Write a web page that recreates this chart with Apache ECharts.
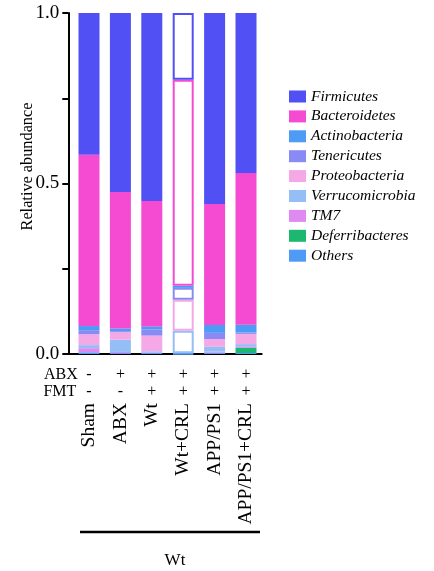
<!DOCTYPE html>
<html>
<head>
<meta charset="utf-8">
<script src="https://cdn.jsdelivr.net/npm/echarts@6/dist/echarts.min.js"></script>
<style>
  html, body { margin: 0; padding: 0; background: #ffffff; }
  #chart { width: 434px; height: 571px; }
</style>
</head>
<body>
<div id="chart"></div>
<script>
// Groups and treatment rows
const groups = ['Sham', 'ABX', 'Wt', 'Wt+CRL', 'APP/PS1', 'APP/PS1+CRL'];
const abxRow = ['-', '+', '+', '+', '+', '+'];
const fmtRow = ['-', '-', '+', '+', '+', '+'];
const yTickLabels = ['0.0', '0.5', '1.0'];

// Relative abundance per phylum (same order as groups)
const firmicutes      = [0.416, 0.525, 0.551, 0.196, 0.560, 0.469];
const bacteroidetes   = [0.502, 0.400, 0.368, 0.604, 0.355, 0.445];
const actinobacteria  = [0.012, 0.008, 0.009, 0.006, 0.023, 0.023];
const tenericutes     = [0.012, 0.003, 0.018, 0.035, 0.018, 0.004];
const proteobacteria  = [0.032, 0.022, 0.046, 0.091, 0.023, 0.030];
const verrucomicrobia = [0.009, 0.036, 0.003, 0.066, 0.014, 0.008];
const tm7             = [0.012, 0.003, 0.002, 0.000, 0.003, 0.003];
const deferribacteres = [0.000, 0.000, 0.000, 0.000, 0.000, 0.015];
const others          = [0.005, 0.003, 0.003, 0.002, 0.004, 0.003];

// Legend order (top of stack first)
const legendOrder = ['Firmicutes', 'Bacteroidetes', 'Actinobacteria', 'Tenericutes',
  'Proteobacteria', 'Verrucomicrobia', 'TM7', 'Deferribacteres', 'Others'];

// Stack order, bottom to top
const phyla = [
  { name: 'Others',          data: others,          color: '#4f9af5' },
  { name: 'Deferribacteres', data: deferribacteres, color: '#1db870' },
  { name: 'TM7',             data: tm7,             color: '#de8af0' },
  { name: 'Verrucomicrobia', data: verrucomicrobia, color: '#94bef5' },
  { name: 'Proteobacteria',  data: proteobacteria,  color: '#f5a8e6' },
  { name: 'Tenericutes',     data: tenericutes,     color: '#8a8af5' },
  { name: 'Actinobacteria',  data: actinobacteria,  color: '#4d9bf5' },
  { name: 'Bacteroidetes',   data: bacteroidetes,   color: '#f54bd2' },
  { name: 'Firmicutes',      data: firmicutes,      color: '#5050f5' }
];

// The Wt+CRL column is drawn as outlined (unfilled) boxes
const outlinedGroup = 'Wt+CRL';

const serif = 'Liberation Serif, Times New Roman, serif';

const series = phyla.map(p => ({
  name: p.name,
  type: 'bar',
  stack: 'abundance',
  barWidth: 21,
  itemStyle: { color: p.color },
  emphasis: { disabled: true },
  data: p.data.map((v, i) => {
    if (groups[i] === outlinedGroup) {
      return {
        value: v,
        itemStyle: v > 0
          ? { color: '#ffffff', borderColor: p.color, borderWidth: 2 }
          : { color: 'rgba(0,0,0,0)', borderWidth: 0 }
      };
    }
    return v;
  })
}));

const chart = echarts.init(document.getElementById('chart'), null, { renderer: 'canvas' });

chart.setOption({
  animation: false,
  backgroundColor: '#ffffff',
  textStyle: { fontFamily: serif, color: '#000' },
  grid: { left: 73.3, top: 13, width: 188.4, bottom: 217 },
  title: {
    text: 'Wt',
    left: 170, top: 547, textAlign: 'center',
    textStyle: { fontFamily: serif, fontSize: 17, fontWeight: 'normal', color: '#000' }
  },
  legend: {
    data: legendOrder,
    orient: 'vertical',
    left: 289, top: 88.5, padding: 0,
    itemWidth: 17, itemHeight: 12, itemGap: 3.9,
    selectedMode: false,
    icon: 'rect',
    textStyle: { fontFamily: serif, fontStyle: 'italic', fontSize: 15.5, color: '#000' }
  },
  xAxis: [
    {
      type: 'category', data: groups, position: 'bottom',
      axisLine: { lineStyle: { color: '#000', width: 2 } },
      axisTick: { alignWithLabel: true, length: 6, lineStyle: { color: '#000', width: 2 } },
      axisLabel: { rotate: 90, margin: 49, fontFamily: serif, fontSize: 19.5, color: '#000', interval: 0 }
    },
    {
      type: 'category', data: abxRow, position: 'bottom', offset: 21,
      name: 'ABX', nameLocation: 'start', nameGap: -4.5,
      nameTextStyle: { fontFamily: serif, fontSize: 16, color: '#000', align: 'right', verticalAlign: 'middle' },
      axisLine: { show: false }, axisTick: { show: false },
      axisLabel: { margin: 0, verticalAlign: 'middle', fontFamily: serif, fontSize: 16, color: '#000', interval: 0 }
    },
    {
      type: 'category', data: fmtRow, position: 'bottom', offset: 38,
      name: 'FMT', nameLocation: 'start', nameGap: -3,
      nameTextStyle: { fontFamily: serif, fontSize: 16, color: '#000', align: 'right', verticalAlign: 'middle' },
      axisLine: { show: false }, axisTick: { show: false },
      axisLabel: { margin: 0, verticalAlign: 'middle', fontFamily: serif, fontSize: 16, color: '#000', interval: 0 }
    }
  ],
  yAxis: {
    type: 'value', min: 0, max: 1, interval: 0.25, offset: 5,
    name: 'Relative abundance', nameLocation: 'middle', nameGap: 33, nameMoveOverlap: false,
    nameTextStyle: { fontFamily: serif, fontSize: 16.3, color: '#000', padding: [0, 0, 0, 34] },
    axisLine: { show: true, lineStyle: { color: '#000', width: 2 } },
    axisTick: { show: true, length: 6, lineStyle: { color: '#000', width: 2 } },
    splitLine: { show: false },
    axisLabel: {
      margin: 9, fontFamily: serif, fontSize: 19, color: '#000',
      formatter: v => {
        const idx = [0, 0.5, 1].indexOf(v);
        return idx >= 0 ? yTickLabels[idx] : '';
      }
    }
  },
  graphic: [
    // joins the y axis to the category axis at the origin
    { type: 'line', shape: { x1: 67, y1: 354, x2: 74, y2: 354 }, style: { stroke: '#000', lineWidth: 2 } },
    // bracket line above the group caption
    { type: 'line', shape: { x1: 80, y1: 532, x2: 260, y2: 532 }, style: { stroke: '#000', lineWidth: 2.5 } }
  ],
  series: series
});
</script>
</body>
</html>
